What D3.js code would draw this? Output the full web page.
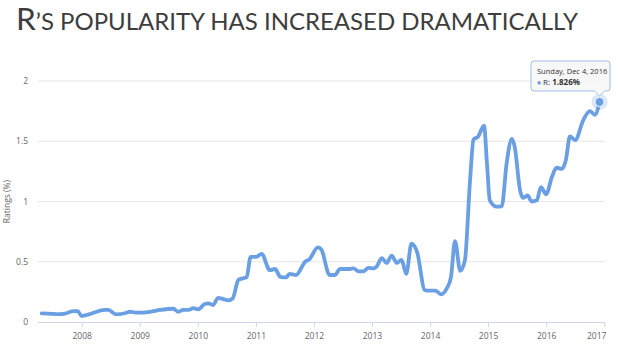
<!DOCTYPE html>
<html><head><meta charset="utf-8">
<script src="https://cdn.jsdelivr.net/npm/d3@7"></script>
<style>body{margin:0;background:#fff}svg{display:block}</style>
</head><body>
<script>
const years = [2007.31, 2007.63, 2007.71, 2007.855, 2007.93, 2008.0, 2008.14, 2008.40, 2008.46, 2008.59, 2008.775, 2008.83, 2008.95, 2009.18, 2009.35, 2009.58, 2009.66, 2009.75, 2009.84, 2009.92, 2010.01, 2010.12, 2010.18, 2010.26, 2010.35, 2010.44, 2010.525, 2010.60, 2010.70, 2010.76, 2010.84, 2010.91, 2011.0, 2011.10, 2011.24, 2011.33, 2011.42, 2011.52, 2011.58, 2011.69, 2011.85, 2011.92, 2012.07, 2012.13, 2012.27, 2012.36, 2012.45, 2012.62, 2012.68, 2012.77, 2012.85, 2012.94, 2013.02, 2013.08, 2013.17, 2013.25, 2013.34, 2013.43, 2013.51, 2013.59, 2013.68, 2013.78, 2013.91, 2014.0, 2014.09, 2014.19, 2014.29, 2014.36, 2014.43, 2014.52, 2014.60, 2014.69, 2014.75, 2014.83, 2014.93, 2014.98, 2015.03, 2015.15, 2015.235, 2015.32, 2015.41, 2015.46, 2015.55, 2015.60, 2015.68, 2015.75, 2015.84, 2015.91, 2016.0, 2016.10, 2016.18, 2016.27, 2016.34, 2016.41, 2016.50, 2016.64, 2016.755, 2016.84, 2016.92];
const ratings = [0.072, 0.066, 0.07, 0.09, 0.09, 0.05, 0.066, 0.10, 0.10, 0.064, 0.077, 0.085, 0.077, 0.085, 0.10, 0.11, 0.085, 0.10, 0.10, 0.115, 0.105, 0.15, 0.155, 0.14, 0.20, 0.19, 0.18, 0.195, 0.35, 0.36, 0.37, 0.54, 0.54, 0.565, 0.43, 0.44, 0.375, 0.37, 0.40, 0.39, 0.50, 0.52, 0.62, 0.60, 0.39, 0.39, 0.44, 0.44, 0.445, 0.42, 0.42, 0.45, 0.445, 0.46, 0.53, 0.49, 0.55, 0.49, 0.515, 0.40, 0.65, 0.575, 0.265, 0.26, 0.26, 0.23, 0.28, 0.37, 0.67, 0.425, 0.51, 1.18, 1.515, 1.54, 1.63, 1.32, 1.01, 0.957, 0.96, 1.32, 1.52, 1.45, 1.095, 1.03, 1.05, 1.0, 1.01, 1.12, 1.06, 1.205, 1.28, 1.27, 1.345, 1.54, 1.51, 1.676, 1.75, 1.72, 1.826];
const yTicks = [0, 0.5, 1, 1.5, 2];
const xTicks = [2008, 2009, 2010, 2011, 2012, 2013, 2014, 2015, 2016, 2017];
const titleMain = "R";
const titleRest = "\u2019S POPULARITY HAS INCREASED DRAMATICALLY";
const yTitle = "Ratings (%)";
const tipDate = "Sunday, Dec 4, 2016";
const tipSeries = "R";
const tipValue = "1.826%";

const W = 619, H = 364;
const svg = d3.select("body").append("svg").attr("width", W).attr("height", H);
const x = d3.scaleLinear().domain([2008, 2017]).range([81.7, 604.2]);
const y = d3.scaleLinear().domain([0, 2]).range([322, 81]);
const left = 38, right = 605;
const font = "'Open Sans', 'Lato', sans-serif";

// title
const t = svg.append("text").attr("x", 16).attr("y", 30).attr("fill", "#3d3d3d")
  .attr("font-family", "Lato, 'Open Sans', sans-serif").attr("font-weight", 400)
  .attr("textLength", 562).attr("lengthAdjust", "spacingAndGlyphs");
t.append("tspan").attr("font-size", 31).text(titleMain);
t.append("tspan").attr("font-size", 23.5).text(titleRest);

// grid
svg.append("g").selectAll("line").data(yTicks.filter(d => d > 0)).join("line")
  .attr("x1", left).attr("x2", right).attr("y1", d => y(d)).attr("y2", d => y(d))
  .attr("stroke", "#e6e6e6").attr("stroke-width", 1);

// y labels
svg.append("g").selectAll("text").data(yTicks).join("text")
  .attr("x", 28).attr("y", d => y(d) + 3).attr("text-anchor", "end")
  .attr("font-family", font).attr("font-size", 8.5).attr("fill", "#666")
  .text(d => d3.format("")(d));

svg.append("text").attr("transform", `translate(10,${y(1)}) rotate(-90)`)
  .attr("text-anchor", "middle").attr("font-family", font).attr("font-size", 8.5)
  .attr("fill", "#666").text(yTitle);

// x axis
const xa = svg.append("g").attr("transform", `translate(0,${y(0)})`)
  .call(d3.axisBottom(x).tickValues(xTicks).tickFormat(d3.format("d")).tickSize(5).tickSizeOuter(0));
xa.select(".domain").attr("stroke", "#ccd6eb").attr("d", `M${left},0.5H${right}`);
xa.selectAll(".tick line").attr("stroke", "#ccd6eb");
xa.selectAll(".tick text").attr("font-family", font).attr("font-size", 8.5).attr("fill", "#666").attr("dy", "1.1em");
xa.selectAll(".tick text").filter(d => d === 2017).attr("dx", -8);

// line
const data = years.map((d, i) => [d, ratings[i]]);
svg.append("path").datum(data)
  .attr("fill", "none").attr("stroke", "#6a9fe3").attr("stroke-width", 3.8)
  .attr("stroke-linejoin", "round").attr("stroke-linecap", "round")
  .attr("d", d3.line().x(d => x(d[0])).y(d => y(d[1])).curve(d3.curveMonotoneX));

// hover point
const last = data[data.length - 1];
const px = x(last[0]), py = y(last[1]);
svg.append("circle").attr("cx", px).attr("cy", py).attr("r", 8).attr("fill", "#6a9fe3").attr("opacity", 0.25);
svg.append("circle").attr("cx", px).attr("cy", py).attr("r", 4.5).attr("fill", "#6a9fe3").attr("stroke", "#fff").attr("stroke-width", 1);

// tooltip
const bx0 = 531, by0 = 61, bx1 = 610, by1 = 91;
svg.append("path")
  .attr("d", `M${bx0 + 3},${by0}H${bx1 - 3}Q${bx1},${by0} ${bx1},${by0 + 3}V${by1 - 3}Q${bx1},${by1} ${bx1 - 3},${by1}H${px + 5}L${px},${py - 6}L${px - 5},${by1}H${bx0 + 3}Q${bx0},${by1} ${bx0},${by1 - 3}V${by0 + 3}Q${bx0},${by0} ${bx0 + 3},${by0}Z`)
  .attr("fill", "rgba(247,247,247,0.9)").attr("stroke", "#9fbde6").attr("stroke-width", 1);
svg.append("text").attr("x", 537).attr("y", 74).attr("font-family", font).attr("font-size", 7.5).attr("fill", "#333").text(tipDate);
const t2 = svg.append("text").attr("x", 537).attr("y", 85).attr("font-family", font).attr("font-size", 8).attr("fill", "#333");
t2.append("tspan").attr("fill", "#6a9fe3").attr("font-size", 7).text("\u25CF ");
t2.append("tspan").text(tipSeries + ": ");
t2.append("tspan").attr("font-weight", "bold").text(tipValue);
</script>
</body></html>
